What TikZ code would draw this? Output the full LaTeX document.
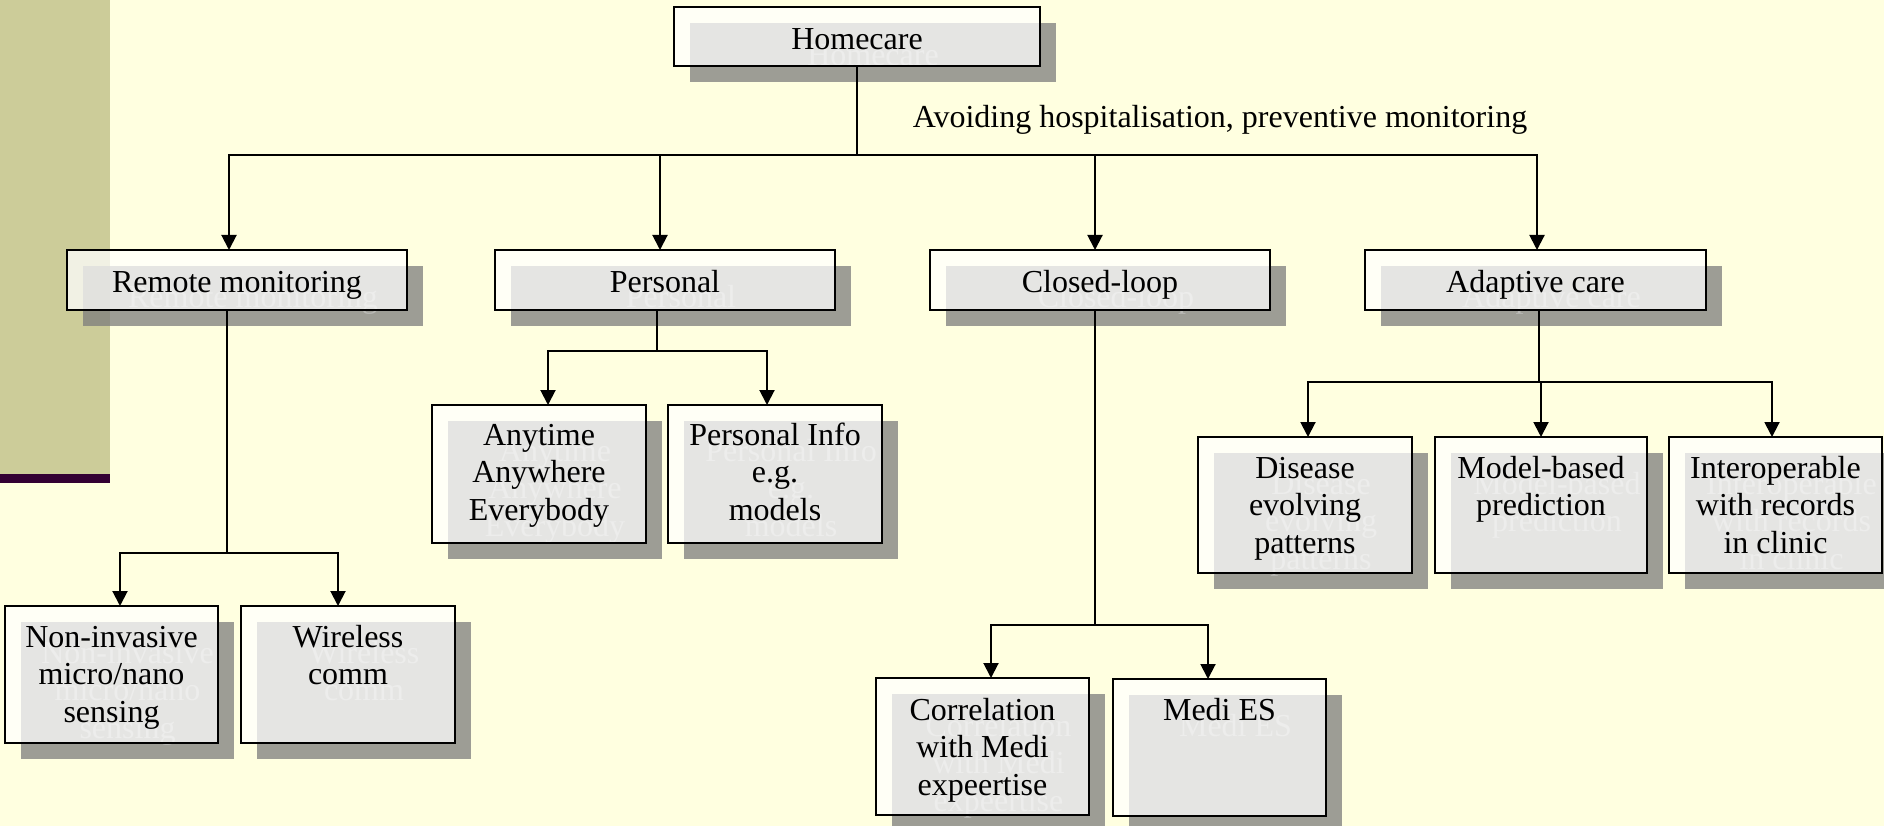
\documentclass[tikz,border=0pt]{standalone}
\usepackage{fontspec}
\setmainfont{Liberation Serif}
\usetikzlibrary{arrows.meta}
\definecolor{bgc}{RGB}{255,255,224}
\definecolor{stripec}{RGB}{204,204,153}
\definecolor{barc}{RGB}{51,0,51}
\definecolor{shc}{RGB}{124,124,124}
\definecolor{ghc}{RGB}{186,186,182}
\pgfdeclarelayer{bgl}\pgfdeclarelayer{shl}\pgfdeclarelayer{ghl}
\pgfsetlayers{bgl,shl,ghl,main}
\tikzset{
  boxst/.style={draw=black, line width=2pt, fill=white, fill opacity=0.74, draw opacity=1, inner sep=0pt, outer sep=0pt},
  txt/.style={anchor=base, inner sep=0pt, font=\fontsize{32}{37.5}\selectfont, text=black},
  ghost/.style={anchor=base, inner sep=0pt, font=\fontsize{32}{37.5}\selectfont, text=ghc},
  shadowst/.style={fill=shc, fill opacity=0.74},
  ln/.style={draw=black, line width=2pt},
  arr/.style={ln, -{Triangle[length=15pt,width=15pt]}},
  arr2/.style={ln, {Triangle[length=15pt,width=15pt]}-{Triangle[length=15pt,width=15pt]}},
}
\newcommand\mkbox[7]{%
  \node[boxst, minimum width={#4-#2}, minimum height={#5-#3}] (#1) at ({(#2+#4)/2},{(#3+#5)/2}) {};
  \begin{pgfonlayer}{shl}
    \fill[shadowst] ([shift={(16,16)}]#1.south west) rectangle ([shift={(16,16)}]#1.north east);
  \end{pgfonlayer}
  \begin{pgfonlayer}{ghl}
    \node[ghost] (#1g) at ([xshift=16pt,yshift=-#7pt-16pt]#1.north) {\begin{tabular}[t]{@{}c@{}}#6\end{tabular}};
  \end{pgfonlayer}
  \node[txt] (#1t) at ([yshift=-#7pt]#1.north) {\begin{tabular}[t]{@{}c@{}}#6\end{tabular}};
}
\begin{document}
\begin{tikzpicture}[x=1pt,y=-1pt]
\useasboundingbox (0,0) rectangle (1884,826);
\begin{pgfonlayer}{bgl}
  \fill[bgc] (0,0) rectangle (1884,826);
  \fill[stripec] (0,0) rectangle (110,474);
  \fill[barc] (0,474) rectangle (110,483);
\end{pgfonlayer}
\begin{scope}
\clip (0,0) rectangle (1884,826);
\mkbox{home}{674}{7}{1040}{66}{Homecare}{43}
\mkbox{remote}{67}{250}{407}{310}{Remote monitoring}{42}
\mkbox{personal}{495}{250}{835}{310}{Personal}{42}
\mkbox{closed}{930}{250}{1270}{310}{Closed-loop}{42}
\mkbox{adaptive}{1365}{250}{1706}{310}{Adaptive care}{42}
\mkbox{anytime}{432}{405}{646}{543}{Anytime\\Anywhere\\Everybody}{40}
\mkbox{pinfo}{668}{405}{882}{543}{Personal Info\\e.g.\\models}{40}
\mkbox{noninv}{5}{606}{218}{743}{Non-invasive\\micro/nano\\sensing}{41}
\mkbox{wireless}{241}{606}{455}{743}{Wireless\\comm}{41}
\mkbox{corr}{876}{678}{1089}{815}{Correlation\\with Medi\\expeertise}{42}
\mkbox{medi}{1113}{679}{1326}{816}{Medi ES}{41}
\mkbox{disease}{1198}{437}{1412}{573}{Disease\\evolving\\patterns}{41}
\mkbox{model}{1435}{437}{1647}{573}{Model-based\\prediction}{41}
\mkbox{interop}{1669}{437}{1882}{573}{Interoperable\\with records\\in clinic}{41}
\end{scope}

\node[txt] (note) at (1220,128) {Avoiding hospitalisation, preventive monitoring};

% top bus
\coordinate (b1) at (229,155);
\coordinate (b2) at (660,155);
\coordinate (b3) at (1095,155);
\coordinate (b4) at (1537,155);
\draw[ln] (home.south) -- (home.south |- b1);
\draw[arr2] (b1 |- remote.north) -- (b1) -- (b4) -- (b4 |- adaptive.north);
\draw[arr] (b2) -- (b2 |- personal.north);
\draw[arr] (b3) -- (b3 |- closed.north);

% remote monitoring branch
\coordinate (rj) at (227,553);
\coordinate (r1) at (120,553);
\coordinate (r2) at (338,553);
\draw[ln] (rj |- remote.south) -- (rj);
\draw[arr2] (r1 |- noninv.north) -- (r1) -- (r2) -- (r2 |- wireless.north);

% personal branch
\coordinate (pj) at (657,351);
\coordinate (p1) at (548,351);
\coordinate (p2) at (767,351);
\draw[ln] (pj |- personal.south) -- (pj);
\draw[arr2] (p1 |- anytime.north) -- (p1) -- (p2) -- (p2 |- pinfo.north);

% closed-loop branch
\coordinate (cj) at (1095,625);
\coordinate (c1) at (991,625);
\coordinate (c2) at (1208,625);
\draw[ln] (cj |- closed.south) -- (cj);
\draw[arr2] (c1 |- corr.north) -- (c1) -- (c2) -- (c2 |- medi.north);

% adaptive branch
\coordinate (aj) at (1539,382);
\coordinate (a1) at (1308,382);
\coordinate (a2) at (1541,382);
\coordinate (a3) at (1772,382);
\draw[ln] (aj |- adaptive.south) -- (aj);
\draw[arr2] (a1 |- disease.north) -- (a1) -- (a3) -- (a3 |- interop.north);
\draw[arr] (a2) -- (a2 |- model.north);
\end{tikzpicture}
\end{document}
